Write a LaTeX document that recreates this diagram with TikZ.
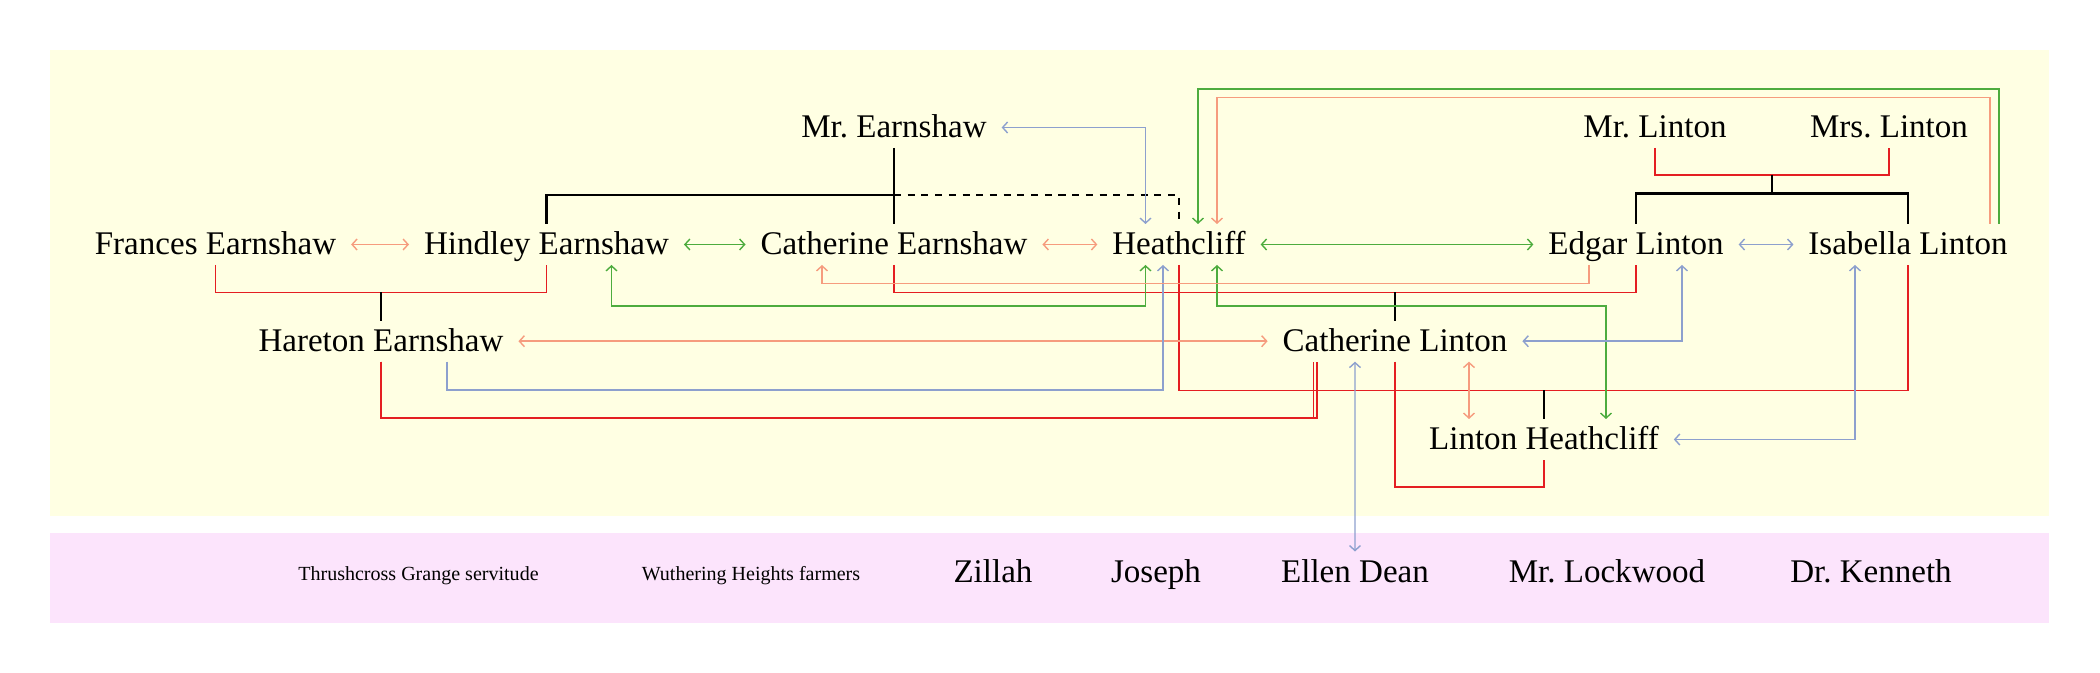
\documentclass[tikz,border=0pt]{standalone}
\usepackage{fontspec}
\setmainfont{Liberation Serif}
\usetikzlibrary{arrows.meta,calc}
\frenchspacing

\definecolor{wedred}{RGB}{228,30,34}
\definecolor{hatesalmon}{RGB}{246,156,126}
\definecolor{lovegreen}{RGB}{77,172,62}
\definecolor{careblue}{RGB}{141,160,206}
\definecolor{moorbg}{RGB}{255,255,227}
\definecolor{servbg}{RGB}{252,228,252}

\begin{document}
\begin{tikzpicture}[>={Straight Barb[length=0.5mm,width=1.1mm]},
        person/.style={inner xsep=1.5mm, inner ysep=1mm, outer sep=0pt,
            text height=2.1mm, text depth=0pt, font=\fontsize{9.4}{11}\selectfont},
        group/.style={inner xsep=1mm, inner ysep=0.5mm, outer sep=0pt,
            text height=1.37mm, text depth=0pt, font=\fontsize{5.7}{7}\selectfont},
        kin/.style={black, line width=0.6pt},
        wed/.style={wedred, line width=0.5pt},
        rel/.style={line width=0.4pt}]
        % Panels
        \useasboundingbox (0,0) rectangle (21,6.73);
        \fill[moorbg] (0.5,1.57) rectangle (20.49,6.23);
        \fill[servbg] (0.5,0.5) rectangle (20.49,1.4);

        % Elders
        \node[person] (mre) at (8.94,5.455) {Mr. Earnshaw};
        \node[person] (mrl) at (16.55,5.455) {Mr. Linton};
        \node[person] (mrsl) at (18.89,5.455) {Mrs. Linton};

        % Second generation
        \node[person] (fe) at (2.155,4.285) {Frances Earnshaw};
        \node[person] (he) at (5.465,4.285) {Hindley Earnshaw};
        \node[person] (ce) at (8.94,4.285) {Catherine Earnshaw};
        \node[person] (hc) at (11.79,4.285) {Heathcliff};
        \node[person] (el) at (16.36,4.285) {Edgar Linton};
        \node[person] (il) at (19.08,4.285) {Isabella Linton};

        % Third generation
        \node[person] (hae) at (3.81,3.318) {Hareton Earnshaw};
        \node[person] (cl) at (13.95,3.318) {Catherine Linton};
        \node[person] (lh) at (15.44,2.335) {Linton Heathcliff};

        % Servants and neighbours
        \node[group] (tgs) at (4.185,0.99) {Thrushcross Grange servitude};
        \node[group] (whf) at (7.51,0.99) {Wuthering Heights farmers};
        \node[person] (zil) at (9.93,1.01) {Zillah};
        \node[person] (jos) at (11.56,1.01) {Joseph};
        \node[person] (ed) at (13.55,1.01) {Ellen Dean};
        \node[person] (lock) at (16.07,1.01) {Mr. Lockwood};
        \node[person] (ken) at (18.71,1.01) {Dr. Kenneth};

        % Marriages
        \draw[wed] (fe.south) -- ++(0,-0.275) coordinate (fhw) -| (he.south);
        \draw[wed] (ce.south) -- ++(0,-0.275) coordinate (cew) -| (el.south);
        \draw[wed] (hc.south) -- ++(0,-1.255) coordinate (hiw) -| (il.south);
        \draw[wed] (mrl.south) -- ++(0,-0.27) coordinate (llw) -| (mrsl.south);
        \draw[wed] (cl.south) -- ++(0,-1.25) -| (lh.south);
        \draw[wed] (hae.south) -- ++(0,-0.563) -| ([xshift=-7.8mm]cl.south);
        \draw[wed] (hae.south) -- ++(0,-0.563) -| ([xshift=-8.15mm]cl.south);

        % Children
        \draw[kin] (mre.south) -- (ce.north);
        \coordinate (ebar) at ([yshift=2.9mm]ce.north);
        \draw[kin] (he.north) |- (ebar);
        \draw[kin, dash pattern=on 2pt off 1.9pt] (ebar) -| (hc.north);
        \draw[kin] (hae.north) -- (hae.north |- fhw);
        \draw[kin] (cl.north) -- (cl.north |- cew);
        \draw[kin] (lh.north) -- (lh.north |- hiw);
        \coordinate (lkid) at ($(llw)!0.5!(llw -| mrsl.south)$);
        \draw[kin] (lkid) -- ++(0,-0.185) coordinate (lbar);
        \draw[kin] (el.north) |- (lbar) -| (il.north);

        % Side by side
        \draw[rel, hatesalmon, <->] (fe.east) -- (he.west);
        \draw[rel, lovegreen, <->] (he.east) -- (ce.west);
        \draw[rel, hatesalmon, <->] (ce.east) -- (hc.west);
        \draw[rel, lovegreen, <->] (hc.east) -- (el.west);
        \draw[rel, careblue, <->] (el.east) -- (il.west);
        \draw[rel, hatesalmon, <->] (hae.east) -- (cl.west);

        % Around Heathcliff
        \draw[rel, careblue, <->] (mre.east) -| ([xshift=-3.35mm]hc.north);
        \draw[rel, lovegreen, ->] ([xshift=9.1mm]il.north) -- ++(0,1.35) -| ([xshift=1.9mm]hc.north);
        \draw[rel, hatesalmon, ->] ([xshift=8.2mm]il.north) -- ++(0,1.263) -| ([xshift=3.8mm]hc.north);
        \draw[rel, lovegreen, <->] ([xshift=6.5mm]he.south) -- ++(0,-0.41) -| ([xshift=-3.35mm]hc.south);
        \draw[rel, careblue, ->] ([xshift=6.6mm]hae.south) -- ++(0,-0.283) -| ([xshift=-1.6mm]hc.south);
        \draw[rel, lovegreen, <->] ([xshift=3.8mm]hc.south) -- ++(0,-0.41) -| ([xshift=6.2mm]lh.north);

        % Lintons
        \draw[rel, hatesalmon, ->] ([xshift=-4.7mm]el.south) -- ++(0,-0.185) -| ([xshift=-7.2mm]ce.south);
        \draw[rel, careblue, <->] (cl.east) -| ([xshift=4.6mm]el.south);
        \draw[rel, careblue, <->] (lh.east) -| ([xshift=-5.3mm]il.south);
        \draw[rel, hatesalmon, <->] ([xshift=7.4mm]cl.south) -- ([xshift=7.4mm]cl.south |- lh.north);
        \draw[rel, careblue, <->] ([xshift=-4mm]cl.south) -- (ed.north);
\end{tikzpicture}
\end{document}
